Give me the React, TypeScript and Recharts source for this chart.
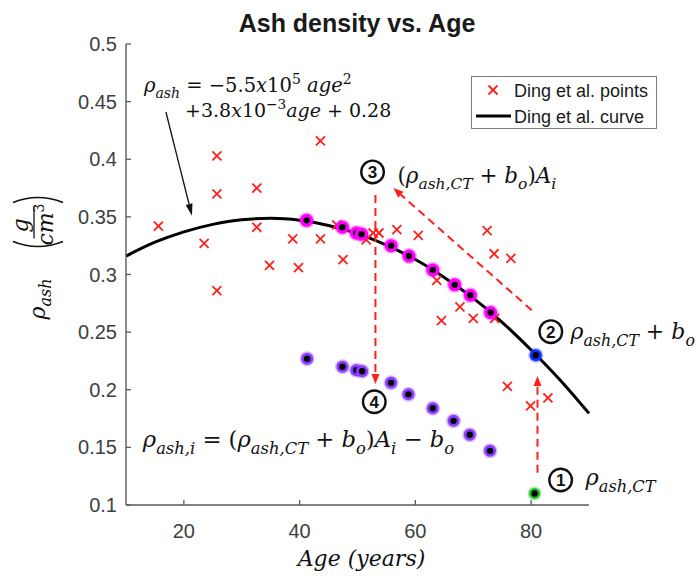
import React from 'react';
import {
  ComposedChart, XAxis, YAxis, Scatter, Line, Legend, Label,
  ReferenceLine, ReferenceDot,
} from 'recharts';

const W = 699;
const H = 576;
const SANS = '"Liberation Sans", Arial, sans-serif';
const MATH = '"DejaVu Serif", serif';
const AXIS = '#5a5a5a';
const TICK = '#404040';

const xTicks = [20, 40, 60, 80];
const yTicks = [0.1, 0.15, 0.2, 0.25, 0.3, 0.35, 0.4, 0.45, 0.5];

// Ding et al. measured points (age, ash density)
const dingPoints = [
  { x: 15.6, y: 0.342 }, { x: 23.5, y: 0.327 }, { x: 25.7, y: 0.403 },
  { x: 25.7, y: 0.370 }, { x: 25.7, y: 0.286 }, { x: 32.6, y: 0.375 },
  { x: 32.6, y: 0.341 }, { x: 34.8, y: 0.308 }, { x: 38.8, y: 0.331 },
  { x: 39.8, y: 0.306 }, { x: 43.6, y: 0.416 }, { x: 43.6, y: 0.331 },
  { x: 46.4, y: 0.343 }, { x: 47.5, y: 0.313 }, { x: 51.5, y: 0.330 },
  { x: 52.7, y: 0.336 }, { x: 53.7, y: 0.336 }, { x: 56.8, y: 0.339 },
  { x: 60.5, y: 0.334 }, { x: 63.7, y: 0.295 }, { x: 64.5, y: 0.260 },
  { x: 67.7, y: 0.272 }, { x: 70.0, y: 0.262 }, { x: 72.4, y: 0.338 },
  { x: 73.6, y: 0.318 }, { x: 73.7, y: 0.262 }, { x: 76.5, y: 0.314 },
  { x: 75.9, y: 0.203 }, { x: 79.9, y: 0.186 }, { x: 82.9, y: 0.193 },
];

// Ding et al. fitted curve, read every 5 years
const dingCurve = [
  { x: 10, y: 0.316 }, { x: 15, y: 0.328 }, { x: 20, y: 0.337 },
  { x: 25, y: 0.3435 }, { x: 30, y: 0.3475 }, { x: 35, y: 0.3487 },
  { x: 40, y: 0.347 }, { x: 45, y: 0.3425 }, { x: 50, y: 0.3355 },
  { x: 55, y: 0.3255 }, { x: 60, y: 0.313 }, { x: 65, y: 0.2975 },
  { x: 70, y: 0.2795 }, { x: 75, y: 0.2585 }, { x: 80, y: 0.2345 },
  { x: 85, y: 0.2085 }, { x: 90, y: 0.1795 },
];

// (rho_ash,CT + b_o) A_i  (magenta)
const scaledPts = [
  { x: 41.2, y: 0.347 }, { x: 47.4, y: 0.341 }, { x: 49.8, y: 0.336 },
  { x: 50.7, y: 0.335 }, { x: 55.8, y: 0.325 }, { x: 58.9, y: 0.316 },
  { x: 63.0, y: 0.304 }, { x: 66.8, y: 0.291 }, { x: 69.5, y: 0.282 },
  { x: 73.0, y: 0.267 },
];

// rho_ash,i  (purple)
const finalPts = [
  { x: 41.3, y: 0.227 }, { x: 47.4, y: 0.220 }, { x: 49.8, y: 0.217 },
  { x: 50.8, y: 0.216 }, { x: 55.8, y: 0.206 }, { x: 58.8, y: 0.196 },
  { x: 63.0, y: 0.184 }, { x: 66.6, y: 0.173 }, { x: 69.4, y: 0.161 },
  { x: 72.9, y: 0.147 },
];

const ctPoint = [{ x: 80.6, y: 0.110 }];
const ctBoPoint = [{ x: 80.8, y: 0.230 }];

// annotation arrows: [from, to]
const redArrows = [
  [{ x: 81.1, y: 0.128 }, { x: 81.1, y: 0.212 }],
  [{ x: 53.1, y: 0.369 }, { x: 53.1, y: 0.205 }],
  [{ x: 80.1, y: 0.269 }, { x: 56.2, y: 0.375 }],
];
const noteArrow = [{ x: 16.9, y: 0.441 }, { x: 21.4, y: 0.351 }];

const steps = [
  { n: '1', x: 85.1, y: 0.1217 },
  { n: '2', x: 83.4, y: 0.2504 },
  { n: '3', x: 52.6, y: 0.389 },
  { n: '4', x: 52.9, y: 0.1896 },
];

type Seg = { t: string; k?: 'sub' | 'sup'; it?: boolean };
const SUB_CT: Seg = { t: 'ash,CT', k: 'sub', it: true };
const RHO: Seg = { t: 'ρ', it: true };
const B_O: Seg[] = [{ t: 'b', it: true }, { t: 'o', k: 'sub', it: true }];

const notes: { x: number; y: number; size: number; segs: Seg[] }[] = [
  {
    x: 13.1, y: 0.4583, size: 19.5,
    segs: [RHO, { t: 'ash', k: 'sub', it: true }, { t: ' = −5.5' }, { t: 'x', it: true },
      { t: '10' }, { t: '5', k: 'sup' }, { t: ' ' }, { t: 'age', it: true }, { t: '2', k: 'sup' }],
  },
  {
    x: 20.2, y: 0.4367, size: 19,
    segs: [{ t: '+3.8' }, { t: 'x', it: true }, { t: '10' }, { t: '−3', k: 'sup' },
      { t: 'age', it: true }, { t: ' + 0.28' }],
  },
  {
    x: 56.9, y: 0.3794, size: 21.5,
    segs: [{ t: '(' }, RHO, SUB_CT, { t: ' + ' }, ...B_O, { t: ')' }, { t: 'A', it: true },
      { t: 'i', k: 'sub', it: true }],
  },
  { x: 86.8, y: 0.244, size: 22, segs: [RHO, SUB_CT, { t: ' + ' }, ...B_O] },
  {
    x: 12.9, y: 0.1503, size: 22.7,
    segs: [RHO, { t: 'ash,i', k: 'sub', it: true }, { t: ' = (' }, RHO, SUB_CT, { t: ' + ' },
      ...B_O, { t: ')' }, { t: 'A', it: true }, { t: 'i', k: 'sub', it: true }, { t: ' − ' }, ...B_O],
  },
  { x: 89.4, y: 0.1174, size: 22.5, segs: [RHO, SUB_CT] },
];

function MathText({ x, y, size, segs }: { x: number; y: number; size: number; segs: Seg[] }) {
  let cur = 0;
  return (
    <text x={x} y={y} fontSize={size} fontFamily={MATH} fill="#111" style={{ whiteSpace: 'pre' }}>
      {segs.map((s, i) => {
        const off = s.k === 'sub' ? size * 0.3 : s.k === 'sup' ? -size * 0.42 : 0;
        const dy = off - cur;
        cur = off;
        return (
          <tspan key={i} dy={dy} fontSize={s.k ? size * 0.72 : size} fontStyle={s.it ? 'italic' : 'normal'}>
            {s.t}
          </tspan>
        );
      })}
    </text>
  );
}

const Cross = ({ cx, cy }: any) => (
  <g stroke="#ff1f1f" strokeWidth={1.8}>
    <line x1={cx - 4.5} y1={cy - 4.5} x2={cx + 4.5} y2={cy + 4.5} />
    <line x1={cx - 4.5} y1={cy + 4.5} x2={cx + 4.5} y2={cy - 4.5} />
  </g>
);

const glow = (color: string, r: number) => ({ cx, cy }: any) => (
  <g>
    <circle cx={cx} cy={cy} r={r + 1.5} fill={color} opacity={0.35} />
    <circle cx={cx} cy={cy} r={r} fill={color} />
    <circle cx={cx} cy={cy} r={3.2} fill="#000" />
  </g>
);

const arrowShape = (color: string, width: number, dash: string | undefined, len: number, wid: number) =>
  (p: any) => {
    const { x1, y1, x2, y2 } = p;
    const a = Math.atan2(y2 - y1, x2 - x1);
    const bx = x2 - len * Math.cos(a);
    const by = y2 - len * Math.sin(a);
    const nx = (-Math.sin(a) * wid) / 2;
    const ny = (Math.cos(a) * wid) / 2;
    return (
      <g>
        <line x1={x1} y1={y1} x2={bx} y2={by} stroke={color} strokeWidth={width} strokeDasharray={dash} />
        <polygon points={`${x2},${y2} ${bx + nx},${by + ny} ${bx - nx},${by - ny}`} fill={color} />
      </g>
    );
  };

const StepMark = ({ cx, cy, n }: any) => (
  <g>
    <circle cx={cx} cy={cy} r={11.3} fill="#fff" stroke="#111" strokeWidth={2.4} />
    <text x={cx} y={cy + 6.2} textAnchor="middle" fontSize={17} fontWeight="bold" fontFamily={SANS} fill="#111">
      {n}
    </text>
  </g>
);

const XTick = ({ x, y, payload }: any) => (
  <g>
    <line x1={x} x2={x} y1={y} y2={y - 5} stroke={AXIS} strokeWidth={1.3} />
    <text x={x} y={y + 33} textAnchor="middle" fontSize={20} fill={TICK} fontFamily={SANS}>
      {payload.value}
    </text>
  </g>
);

const YTick = ({ x, y, payload }: any) => (
  <g>
    <line x1={x} x2={x + 5} y1={y} y2={y} stroke={AXIS} strokeWidth={1.3} />
    <text x={x - 9} y={y + 7} textAnchor="end" fontSize={20} fill={TICK} fontFamily={SANS}>
      {String(payload.value)}
    </text>
  </g>
);

const XTitle = ({ viewBox }: any) => (
  <text
    x={viewBox.x + viewBox.width / 2 + 4} y={viewBox.y + 61} textAnchor="middle"
    fontSize={22} fontFamily={MATH} fontStyle="italic" fill="#111"
  >
    Age (years)
  </text>
);

const YTitle = ({ viewBox }: any) => {
  const cx = 40;
  const cy = viewBox.y + viewBox.height / 2 - 16;
  return (
    <g transform={`translate(${cx},${cy}) rotate(-90)`} fontFamily={MATH} fill="#111">
      <text x={-61} y={5} fontSize={22}>
        <tspan fontStyle="italic">ρ</tspan>
        <tspan fontStyle="italic" fontSize={16} dy={6}>ash</tspan>
      </text>
      <path d="M 17 -27 Q 7 -2 17 23" fill="none" stroke="#111" strokeWidth={1.6} />
      <text x={33} y={-12} fontSize={22} fontStyle="italic" textAnchor="middle">g</text>
      <line x1={20} x2={52} y1={-6} y2={-6} stroke="#111" strokeWidth={1.3} />
      <text x={34} y={13} fontSize={22} textAnchor="middle">
        <tspan fontStyle="italic">cm</tspan>
        <tspan fontSize={14} dy={-9}>3</tspan>
      </text>
      <path d="M 56 -27 Q 66 -2 56 23" fill="none" stroke="#111" strokeWidth={1.6} />
    </g>
  );
};

const LegendBox = ({ payload }: any) => {
  const items = (payload || [])
    .filter((e: any) => e.type !== 'none')
    .sort((a: any, b: any) => (a.type === 'line' ? 1 : 0) - (b.type === 'line' ? 1 : 0));
  return (
    <div style={{
      width: 186, height: 53, boxSizing: 'border-box', border: '1px solid #7a7a7a', background: '#fff',
    }}>
      <svg width={184} height={51} style={{ display: 'block' }}>
        {items.map((e: any, i: number) => {
          const cy = 13 + i * 26;
          return (
            <g key={e.value}>
              {e.type === 'line'
                ? <line x1={4} x2={39} y1={cy} y2={cy} stroke="#000" strokeWidth={3} />
                : <Cross cx={21} cy={cy} />}
              <text x={42} y={cy + 7} fontSize={18} fontFamily={SANS} fill="#1a1a1a">{e.value}</text>
            </g>
          );
        })}
      </svg>
    </div>
  );
};

export default function App() {
  return (
    <div style={{ position: 'relative', width: W, height: H, background: '#fff' }}>
      <style>{'body{margin:0}'}</style>
      <ComposedChart width={W} height={H} margin={{ top: 44, right: 110, bottom: 0, left: 0 }}>
        <XAxis
          type="number" dataKey="x" domain={[10, 90]} ticks={xTicks} interval={0}
          height={71} tickSize={0} tickMargin={0} tickLine={false}
          axisLine={{ stroke: AXIS, strokeWidth: 1.4 }} tick={<XTick />}
        >
          <Label content={<XTitle />} />
        </XAxis>
        <YAxis
          type="number" dataKey="y" domain={[0.1, 0.5]} ticks={yTicks} interval={0}
          width={126} tickSize={0} tickMargin={0} tickLine={false}
          axisLine={{ stroke: AXIS, strokeWidth: 1.4 }} tick={<YTick />}
        >
          <Label content={<YTitle />} />
        </YAxis>
        <Legend
          layout="horizontal" verticalAlign="middle" align="center"
          wrapperStyle={{ position: 'absolute', left: 471, top: 76, width: 186, height: 53 }}
          content={<LegendBox />}
        />
        <Scatter
          name="Ding et al. points" data={dingPoints} legendType="cross" fill="#ff1f1f"
          shape={<Cross />} isAnimationActive={false}
        />
        <Line
          name="Ding et al. curve" data={dingCurve} dataKey="y" type="monotone" stroke="#000"
          strokeWidth={3} dot={false} legendType="line" isAnimationActive={false}
        />
        <Scatter data={scaledPts} legendType="none" shape={glow('#ff00ff', 6.5)} isAnimationActive={false} />
        <Scatter data={finalPts} legendType="none" shape={glow('#8a3cff', 6)} isAnimationActive={false} />
        <Scatter data={ctBoPoint} legendType="none" shape={glow('#1030ff', 6)} isAnimationActive={false} />
        <Scatter data={ctPoint} legendType="none" shape={glow('#1fbf1f', 5.5)} isAnimationActive={false} />
        {redArrows.map((seg, i) => (
          <ReferenceLine
            key={`ra${i}`} segment={seg} ifOverflow="visible"
            shape={arrowShape('#ff1f1f', 2, '8 5', 10, 8)}
          />
        ))}
        <ReferenceLine segment={noteArrow} ifOverflow="visible" shape={arrowShape('#111', 1.3, undefined, 12, 7)} />
        {steps.map((s) => (
          <ReferenceDot
            key={`s${s.n}`} x={s.x} y={s.y} r={0} ifOverflow="visible"
            shape={(p: any) => <StepMark cx={p.cx} cy={p.cy} n={s.n} />}
          />
        ))}
        {notes.map((n, i) => (
          <ReferenceDot
            key={`n${i}`} x={n.x} y={n.y} r={0} ifOverflow="visible"
            shape={(p: any) => <MathText x={p.cx} y={p.cy} size={n.size} segs={n.segs} />}
          />
        ))}
      </ComposedChart>
      <svg width={W} height={60} style={{ position: 'absolute', left: 0, top: 0, pointerEvents: 'none' }}>
        <text x={357} y={32} textAnchor="middle" fontSize={25} fontWeight="bold" fontFamily={SANS} fill="#1a1a1a">
          Ash density vs. Age
        </text>
      </svg>
    </div>
  );
}
